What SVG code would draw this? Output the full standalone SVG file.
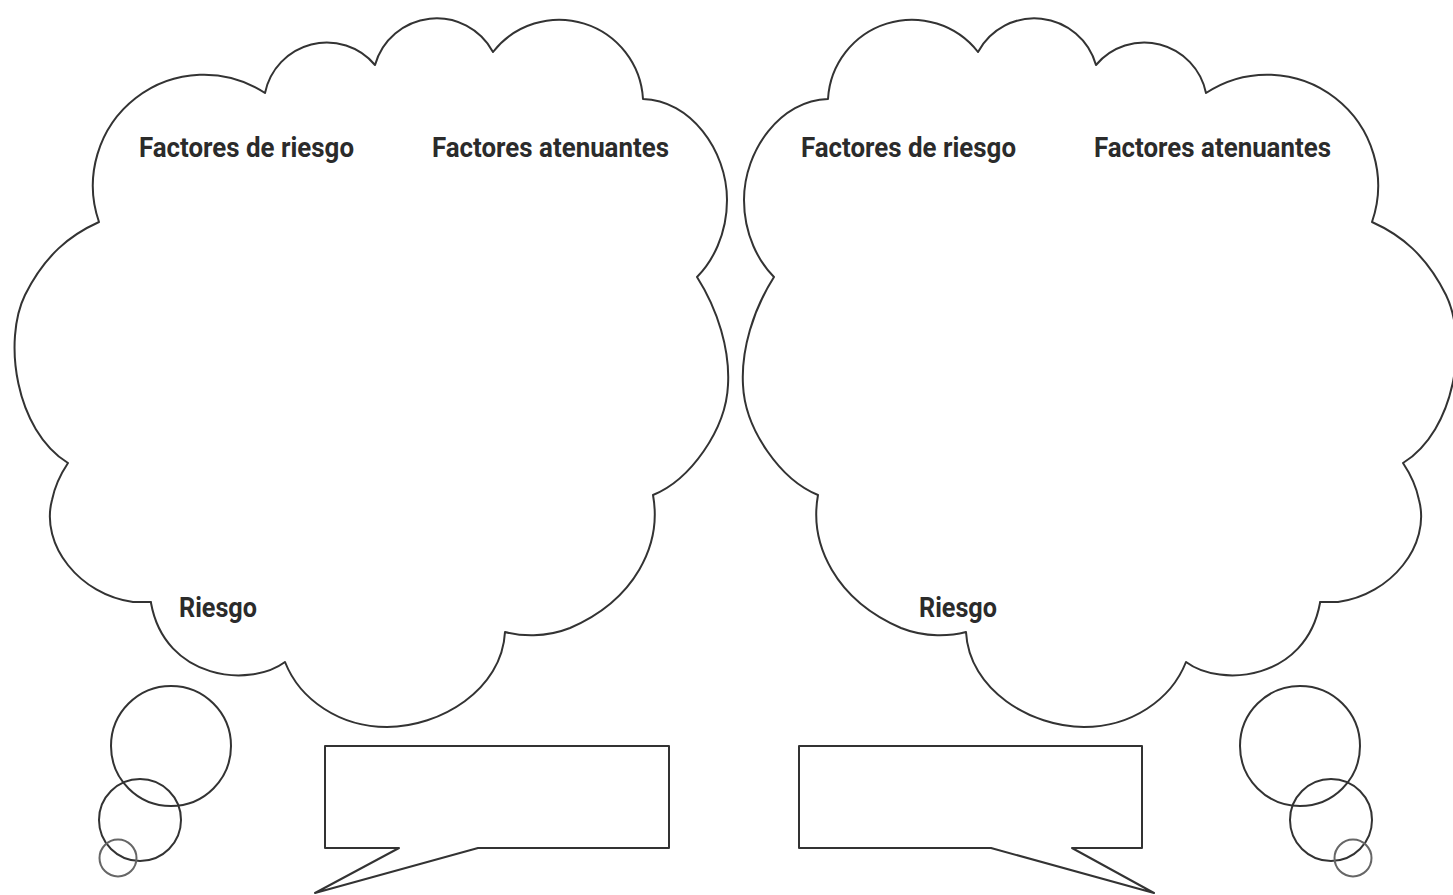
<svg xmlns="http://www.w3.org/2000/svg" xmlns:xlink="http://www.w3.org/1999/xlink" width="1453" height="895" viewBox="0 0 1453 895">
<style>
.outline{fill:#fff;stroke:#333;stroke-width:2;stroke-linejoin:round}
.thin{fill:none;stroke:#333;stroke-width:2}
.light{fill:none;stroke:#666;stroke-width:2}
.lbl{font-family:Roboto,"Liberation Sans",sans-serif;font-weight:700;font-size:28px;fill:#2b2b2b}
</style>
<defs>
<path id="cloud" d="M 99,222 A 111 111 0 0 1 265,93 A 63 63 0 0 1 375,65 A 64 64 0 0 1 493,52 A 84 84 0 0 1 643,99 C 690,100 727,150 727,200 C 727,235 712,262 697,277 C 718,310 730,350 728,385 C 726,430 690,480 653,495 C 662,545 635,600 570,628 C 545,638 520,636 505,632 C 502,690 440,727 387,727 C 340,727 300,700 285,662 C 250,688 165,680 151,603 L 151,602 L 133,602 C 80,595 40,545 52,500 C 55,485 62,472 68,463 C 15,430 3,340 25,295 C 45,255 70,235 99,222 Z"/>
</defs>
<rect width="1453" height="895" fill="#fff"/>
<g id="connectors"/>
<g id="cloud-left">
<use xlink:href="#cloud" class="outline"/>
<text class="lbl" x="139" y="157" textLength="215" lengthAdjust="spacingAndGlyphs">Factores de riesgo</text>
<text class="lbl" x="432" y="157" textLength="237" lengthAdjust="spacingAndGlyphs">Factores atenuantes</text>
<text class="lbl" x="179" y="617" textLength="78" lengthAdjust="spacingAndGlyphs">Riesgo</text>
</g>
<g id="cloud-right">
<use xlink:href="#cloud" class="outline" transform="matrix(-1 0 0 1 1471 0)"/>
<text class="lbl" x="801" y="157" textLength="215" lengthAdjust="spacingAndGlyphs">Factores de riesgo</text>
<text class="lbl" x="1094" y="157" textLength="237" lengthAdjust="spacingAndGlyphs">Factores atenuantes</text>
<text class="lbl" x="919" y="617" textLength="78" lengthAdjust="spacingAndGlyphs">Riesgo</text>
</g>
<g id="thought-left">
<circle class="thin" cx="171" cy="746" r="60"/>
<circle class="thin" cx="140" cy="820" r="41"/>
<circle class="light" cx="118" cy="858" r="18.5"/>
</g>
<g id="thought-right">
<circle class="thin" cx="1300" cy="746" r="60"/>
<circle class="thin" cx="1331" cy="820" r="41"/>
<circle class="light" cx="1353" cy="858" r="18.5"/>
</g>
<g id="speech-left">
<path class="outline" d="M 325,746 H 669 V 848 H 478 L 315,893 L 399,848 H 325 Z"/>
</g>
<g id="speech-right">
<path class="outline" d="M 799,746 H 1142 V 848 H 1072 L 1154,893 L 991,848 H 799 Z"/>
</g>
</svg>
